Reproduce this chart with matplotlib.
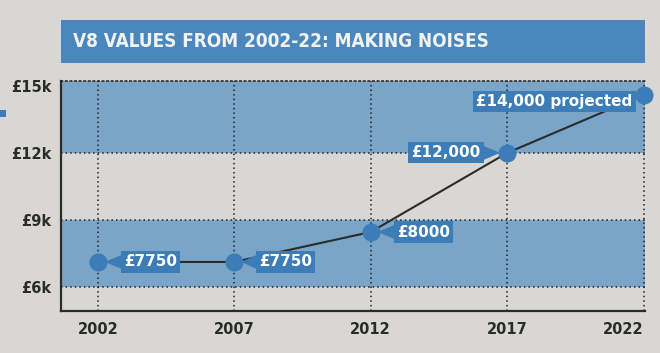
import matplotlib
matplotlib.use("Agg")
import matplotlib.pyplot as plt
from matplotlib import font_manager
from matplotlib.patches import Rectangle

# data (dots are drawn where the paper put them)
years = [2002, 2007, 2012, 2017, 2022]
values = [7120, 7120, 8460, 12000, 14600]
labels = ["£7750", "£7750", "£8000", "£12,000", "£14,000 projected"]
ytick_vals = [6000, 9000, 12000, 15000]
ytick_labels = ["£6k", "£9k", "£12k", "£15k"]
title = "V8 VALUES FROM 2002-22: MAKING NOISES"

# label placement (points from the dot)
label_offsets = [(19, 0), (18, 0), (19, 0), (-19, 0), (-8, -5)]

bg = "#d8d7d3"
banner = "#4a87bd"
dot_blue = "#3c7db8"
band_blue = "#7aa5c8"
ink = "#2b2b2b"

# a narrow bold face for the headline if one is around
title_props = dict(family="DejaVu Sans", fontweight="bold", fontsize=12.5)
for f in font_manager.fontManager.ttflist:
    name = f.fname.lower()
    if ("condensed" in name or "narrow" in name) and "bold" in name and "oblique" not in name and "italic" not in name:
        title_props = dict(fontproperties=font_manager.FontProperties(fname=f.fname, size=13.6))
        break

fig = plt.figure(figsize=(6.6, 3.53), dpi=100, facecolor=bg)
ax = fig.add_axes([0.0924, 0.119, 0.8848, 0.6516])
ax.set_facecolor(bg)

# title banner
fig.patches.append(Rectangle((0.0924, 0.8215), 0.885, 0.1218, transform=fig.transFigure,
                             facecolor=banner, edgecolor="none", zorder=0))
fig.text(0.1106, 0.8824, title, color="#f2f2f2", va="center", ha="left", **title_props)
fig.patches.append(Rectangle((0.0, 0.668), 0.009, 0.02, transform=fig.transFigure,
                             facecolor=dot_blue, edgecolor="none"))

ax.set_xlim(2000.65, 2022.05)
ax.set_ylim(4925, 15220)

# shaded bands
ax.axhspan(6000, 9000, color=band_blue, lw=0, zorder=0)
ax.axhspan(12000, 15220, color=band_blue, lw=0, zorder=0)

# dotted grid
for v in ytick_vals[:-1]:
    ax.axhline(v, color="#222222", lw=1.1, ls=(0, (1, 2)), zorder=1)
for yr in years:
    ax.axvline(yr, color="#222222", lw=1.1, ls=(0, (1, 2)), zorder=1)

ax.plot(years, values, color=ink, lw=1.5, zorder=2)
ax.plot(years, values, "o", color=dot_blue, ms=13, mec="none", zorder=5, clip_on=False)

for x, y, txt, (dx, dy) in zip(years, values, labels, label_offsets):
    ha = "left" if dx > 0 else "right"
    arrow = None
    if abs(dx) > 10:
        arrow = dict(arrowstyle="wedge,tail_width=0.9,shrink_factor=0.5",
                     fc=dot_blue, ec="none", shrinkA=0, shrinkB=5)
    ax.annotate(txt, xy=(x, y), xytext=(dx, dy), textcoords="offset points",
                ha=ha, va="center", color="white", fontsize=11, fontweight="bold",
                bbox=dict(boxstyle="square,pad=0.2", fc=dot_blue, ec="none"),
                arrowprops=arrow, zorder=4)

ax.set_xticks(years)
ax.set_xticklabels([str(y) for y in years])
ax.set_yticks(ytick_vals)
ax.set_yticklabels(ytick_labels)
ax.tick_params(length=0, labelsize=10.5, colors=ink)
ax.tick_params(axis="x", pad=8)
ax.tick_params(axis="y", pad=7)
for lab in ax.get_xticklabels() + ax.get_yticklabels():
    lab.set_fontweight("bold")
ax.get_xticklabels()[-1].set_horizontalalignment("right")

ax.spines["right"].set_visible(False)
ax.spines["top"].set_linestyle((0, (1, 2)))
ax.spines["top"].set_linewidth(1.1)
ax.spines["top"].set_color("#222222")
for side in ["left", "bottom"]:
    ax.spines[side].set_color(ink)
    ax.spines[side].set_linewidth(1.6)

fig.savefig("out.png", dpi=100, facecolor=bg)
